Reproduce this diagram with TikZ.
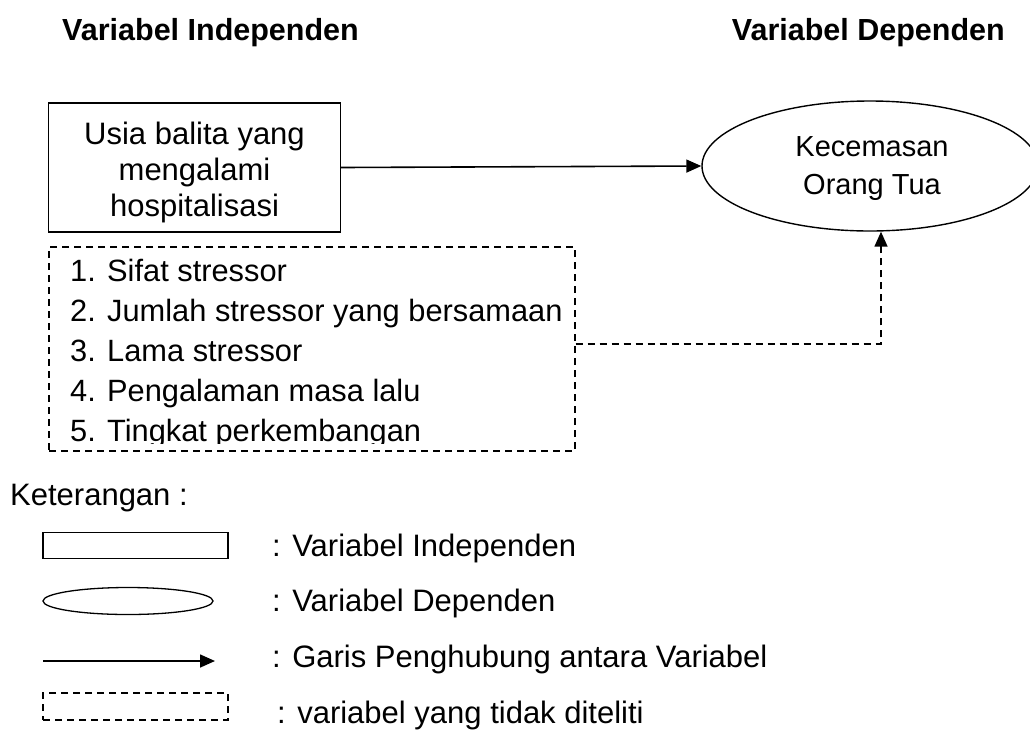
\documentclass[tikz,border=0pt]{standalone}
\usepackage{fontspec}
\setmainfont{Liberation Sans}
\usetikzlibrary{shapes.geometric,arrows.meta,positioning}

\begin{document}
\begin{tikzpicture}[x=1pt,y=-1pt,
    judul/.style={font=\bfseries\fontsize{30.5}{36}\selectfont,inner sep=0pt},
    teks/.style={font=\fontsize{31}{36}\selectfont,inner sep=0pt},
    daftar/.style={font=\fontsize{30.8}{36}\selectfont,inner sep=0pt,anchor=base west},
    varindep/.style={draw,line width=1.4pt,minimum width=292pt,minimum height=129pt,inner sep=0pt},
    vardep/.style={draw,ellipse,line width=1.4pt,minimum width=336pt,minimum height=130pt,inner sep=0pt},
    tdkteliti/.style={draw,dash pattern=on 7pt off 5pt,line width=1.4pt,inner sep=0pt},
    panah/.style={line width=1.6pt,-{Triangle[length=15pt,width=13pt]}},
    panahputus/.style={line width=1.6pt,dash pattern=on 7pt off 5pt,-{Triangle[length=15pt,width=13pt]}}]
    \clip (0,0) rectangle (1030,729);
    % judul kolom
    \node[judul,anchor=base west] (jindep) at (62,40) {Variabel Independen};
    \node[judul,anchor=base east] (jdep) at (1005,40) {Variabel Dependen};
    % variabel
    \node[varindep] (indep) at (194.5,167.5) {};
    \node[teks,align=center] (indeptks) at (194.5,172) {Usia balita yang\\mengalami\\hospitalisasi};
    \node[vardep] (dep) at (870,166) {};
    \node[teks,align=center,font=\fontsize{29}{38}\selectfont] (deptks) at (872,168.5) {Kecemasan\\Orang Tua};
    \draw[panah] (indep.east) -- (dep.west);
    % variabel yang tidak diteliti
    \node[tdkteliti,minimum width=526pt,minimum height=204pt] (lain) at (312,349) {};
    \node[daftar] (no1) at (70,281) {1.};
    \node[daftar] (it1) at (107,281) {Sifat stressor};
    \node[daftar] (no2) at (70,321) {2.};
    \node[daftar] (it2) at (107,321) {Jumlah stressor yang bersamaan};
    \node[daftar] (no3) at (70,361) {3.};
    \node[daftar] (it3) at (107,361) {Lama stressor};
    \node[daftar] (no4) at (70,401) {4.};
    \node[daftar] (it4) at (107,401) {Pengalaman masa lalu};
    \begin{scope}
        \clip (49,247) rectangle (575,443);
        \node[daftar] (no5) at (70,441) {5.};
        \node[daftar] (it5) at (107,441) {Tingkat perkembangan};
    \end{scope}
    \coordinate (belok) at (881,344);
    \draw[panahputus] (lain.east |- belok) -- (belok) -- (dep.south -| belok);
    % keterangan
    \node[teks,anchor=base west] (ket) at (10,505) {Keterangan :};
    \node[draw,line width=1.3pt,minimum width=185pt,minimum height=26pt,inner sep=0pt] (lgkotak) at (135.5,545.5) {};
    \node[draw,ellipse,line width=1.3pt,minimum width=170pt,minimum height=27pt,inner sep=0pt] (lgelips) at (128,601) {};
    \coordinate (lga) at (43,661);
    \coordinate (lgb) at (215,661);
    \draw[panah] (lga) -- (lgb);
    \node[tdkteliti,minimum width=185pt,minimum height=27pt] (lgputus) at (135.5,706.5) {};
    \node[teks,anchor=base west] (ket1) at (272,556) {: Variabel Independen};
    \node[teks,anchor=base west] (ket2) at (272,611) {: Variabel Dependen};
    \node[teks,anchor=base west] (ket3) at (272,667) {: Garis Penghubung antara Variabel};
    \node[teks,anchor=base west] (ket4) at (277,723) {: variabel yang tidak diteliti};
\end{tikzpicture}
\end{document}
